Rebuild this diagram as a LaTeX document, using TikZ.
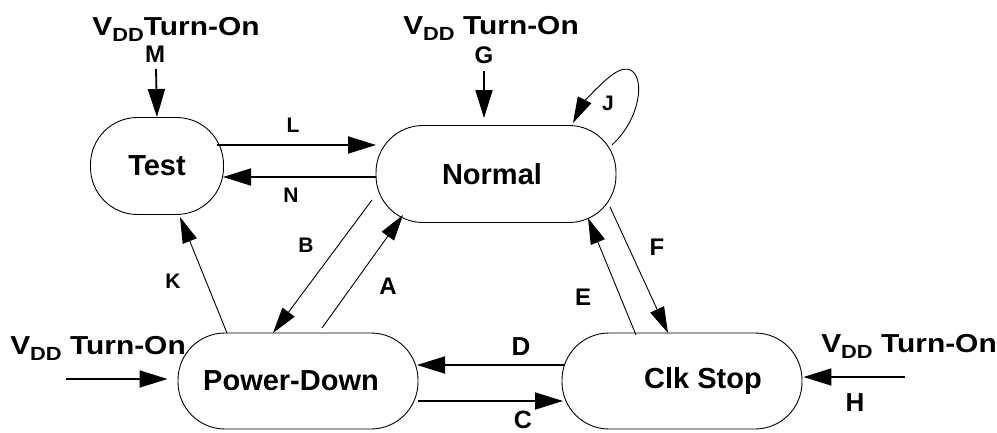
\documentclass[tikz,border=0pt]{standalone}
\usepackage{fontspec}
\setmainfont{Liberation Sans}
\newfontfamily\widefont[FakeStretch=1.15]{Liberation Sans}
\usetikzlibrary{arrows.meta,calc}
\newcommand{\vdd}{V\raisebox{-6pt}{\fontsize{19}{19}\selectfont DD}}
\begin{document}
\begin{tikzpicture}[x=1pt,y=-1pt,
  state/.style={draw,line width=0.9pt,rounded corners=47pt,minimum height=97pt,inner sep=0pt,font=\fontsize{29}{29}\selectfont\bfseries},
  lbl/.style={font=\fontsize{21}{21}\selectfont\bfseries,inner sep=0pt},
  mlbl/.style={font=\fontsize{24}{24}\selectfont\bfseries,inner sep=0pt},
  blbl/.style={font=\fontsize{26}{26}\selectfont\bfseries,inner sep=0pt},
  vlbl/.style={font=\widefont\fontsize{26}{26}\selectfont\bfseries,inner sep=0pt},
  thick arr/.style={line width=1.8pt,-{Triangle[length=28pt,width=17pt]}},
  thin arr/.style={line width=0.9pt,-{Triangle[length=26pt,width=15pt]}}]
\useasboundingbox (0,0) rectangle (997,433);
\node[state,minimum width=133pt] (test) at (157,166) {Test};
\node[state,minimum width=240pt] (normal) at (496,174) {Normal\hspace*{8pt}};
\node[state,minimum width=240pt,minimum height=96pt] (pd) at (298,381) {Power-Down\hspace*{14pt}};
\node[state,minimum width=240pt,minimum height=96pt] (clk) at (682,381) {\hspace*{42pt}Clk Stop};
% VDD labels
\node[vlbl] (v1) at (176,29) {\vdd Turn-On};
\node[mlbl] (lm) at (155,54) {M};
\node[vlbl] (v2) at (491,28) {\vdd{} Turn-On};
\node[mlbl] (lg) at (484,55) {G};
\node[vlbl] (v3) at (98,348) {\vdd{} Turn-On};
\node[vlbl] (v4) at (909,346) {\vdd{} Turn-On};
\coordinate (m0) at (156,69);
\coordinate (g0) at (484,71);
\coordinate (h0) at (905,377);
\coordinate (p0) at (66,379);
% transition labels
\node[lbl] (ll) at (293,125) {L};
\node[lbl] (ln) at (291,195) {N};
\node[lbl] (lj) at (608,103) {J};
\node[lbl] (lk) at (173,281) {K};
\node[lbl] (lb) at (306,245) {B};
\node[mlbl] (la) at (388,286) {A};
\node[mlbl] (le) at (583,297) {E};
\node[mlbl] (lf) at (657,247) {F};
\node[blbl] (ld) at (521,347) {D};
\node[blbl,font=\fontsize{25}{25}\selectfont\bfseries] (lc) at (523,420) {C};
\node[blbl] (lh) at (855,403) {H};
% arrows
\draw[thick arr] (m0) -- (test.north);
\draw[thick arr] (g0) -- ($(normal.north)+(-12,-7)$);
\draw[thick arr] (p0) -- ($(pd.west)+(-10,-2)$);
\draw[thick arr] (h0) -- ($(clk.east)+(1,-4)$);
\draw[thick arr] ($(test.center)+(60,-21)$) -- ($(normal.center)+(-120,-29)$);
\draw[thick arr] ($(normal.center)+(-120,3)$) -- ($(test.center)+(66,11)$);
\draw[thick arr] ($(clk.center)+(-117,-16)$) -- ($(pd.center)+(119,-16)$);
\draw[thick arr] ($(pd.center)+(120,20)$) -- ($(clk.center)+(-119,20)$);
\draw[thin arr] ($(pd.center)+(-71,-48)$) -- ($(test.center)+(23,51)$);
\draw[thin arr] ($(normal.center)+(-124,26)$) -- ($(pd.center)+(-25,-48)$);
\draw[thin arr] ($(pd.center)+(24,-53)$) -- ($(normal.center)+(-93,41)$);
\draw[thin arr] ($(clk.center)+(-46,-46)$) -- ($(normal.center)+(92,44)$);
\draw[thin arr] ($(normal.center)+(114,33)$) -- ($(clk.center)+(-14,-48)$);
\draw[thin arr] ($(normal.center)+(116,-29)$) .. controls (650,110) and (645,50) .. (612,75) .. controls (595,88) and (582,105) .. ($(normal.center)+(77,-51)$);
\end{tikzpicture}
\end{document}
